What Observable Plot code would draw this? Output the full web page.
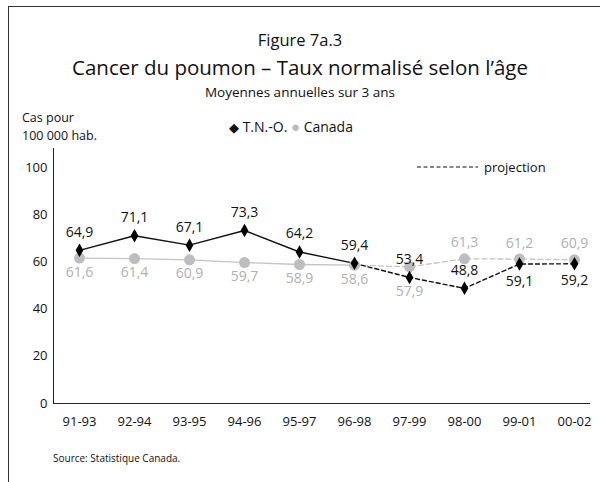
<!DOCTYPE html>
<html><head><meta charset="utf-8">
<script src="https://cdn.jsdelivr.net/npm/d3@7"></script>
<script src="https://cdn.jsdelivr.net/npm/@observablehq/plot@0.6"></script>
<style>
body{margin:0;background:#fff;font-family:"Open Sans",sans-serif;}
#wrap{position:relative;width:600px;height:482px;overflow:hidden;}
#border{position:absolute;left:8px;top:6px;width:700px;height:600px;border-left:1.5px solid #333;border-top:1.5px solid #333;}
.t{position:absolute;white-space:nowrap;color:#111;}
#plot{position:absolute;left:0;top:0;}
</style></head><body>
<div id="wrap">
<div id="border"></div>
<div id="plot"></div>
<div class="t" style="left:0;width:600px;text-align:center;top:28px;font-size:16.5px;">Figure 7a.3</div>
<div class="t" style="left:0;width:600px;text-align:center;top:53px;font-size:20.5px;">Cancer du poumon – Taux normalisé selon l’âge</div>
<div class="t" style="left:0;width:600px;text-align:center;top:83px;font-size:13.5px;">Moyennes annuelles sur 3 ans</div>
<div class="t" style="left:22px;top:109px;font-size:12.5px;line-height:18px;">Cas pour<br>100 000 hab.</div>
<div class="t" style="left:229px;top:116px;font-size:14px;"><span style="font-size:13px">◆</span> T.N.-O. <span style="color:#bbb;font-size:15px">●</span> Canada</div>
<div class="t" style="left:53px;top:451px;font-size:10px;">Source: Statistique Canada.</div>
</div>
<script>
const periods = ["91-93","92-94","93-95","94-96","95-97","96-98","97-99","98-00","99-01","00-02"];
const tno = [64.9, 71.1, 67.1, 73.3, 64.2, 59.4, 53.4, 48.8, 59.1, 59.2];
const canada = [61.6, 61.4, 60.9, 59.7, 58.9, 58.6, 57.9, 61.3, 61.2, 60.9];
const yTicks = [0, 20, 40, 60, 80, 100];
const projectionStart = 5;

const rows = periods.map((p, i) => ({p, i, tno: tno[i], canada: canada[i]}));
const solid = rows.filter(d => d.i <= projectionStart);
const proj = rows.filter(d => d.i >= projectionStart);
const fmt = v => v.toFixed(1).replace(".", ",");
const grey = "#c4c4c4";
const greyText = "#b0b0b0";

const chart = Plot.plot({
  width: 600, height: 482,
  marginLeft: 53, marginRight: 10, marginTop: 148, marginBottom: 79,
  style: {fontFamily: "Open Sans, sans-serif", background: "transparent"},
  x: {type: "point", domain: periods, range: [79, 574], padding: 0, label: null},
  y: {domain: [0, 100], range: [403, 167], label: null},
  marks: [
    Plot.ruleX([periods[0]], {dx: -26, y1: 0, y2: 108, stroke: "#222", strokeWidth: 1}),
    Plot.ruleY([0], {stroke: "#222", strokeWidth: 1.2}),
    Plot.axisY(yTicks, {tickSize: 0, tickPadding: 6, fontSize: 13, fill: "#111"}),
    Plot.axisX({tickSize: 0, tickPadding: 13, fontSize: 13, fill: "#111"}),
    Plot.line(solid, {x: "p", y: "canada", stroke: grey, strokeWidth: 1.3}),
    Plot.line(proj, {x: "p", y: "canada", stroke: grey, strokeWidth: 1.3, strokeDasharray: "5,3"}),
    Plot.line(solid, {x: "p", y: "tno", stroke: "#111", strokeWidth: 1.4}),
    Plot.line(proj, {x: "p", y: "tno", stroke: "#111", strokeWidth: 1.4, strokeDasharray: "4,3"}),
    Plot.dot(rows, {x: "p", y: "canada", r: 5.5, fill: "#bdbdbd"}),
    Plot.dot(rows, {x: "p", y: "tno", symbol: "diamond", r: 4.1, fill: "#000"}),
    Plot.text(rows.filter(d => d.i < 7), {x: "p", y: d => Math.min(d.canada, d.tno), text: d => fmt(d.canada), dy: 14, fontSize: 14, fill: greyText}),
    Plot.text(rows.filter(d => d.i >= 7), {x: "p", y: "canada", text: d => fmt(d.canada), dy: -16, fontSize: 14, fill: greyText}),
    Plot.text(rows.filter(d => d.i < 8), {x: "p", y: "tno", text: d => fmt(d.tno), dy: -18, fontSize: 14, fill: "#111"}),
    Plot.text(rows.filter(d => d.i >= 8), {x: "p", y: "tno", text: d => fmt(d.tno), dy: 17, fontSize: 14, fill: "#111"})
  ]
});
document.getElementById("plot").appendChild(chart);

// projection legend
const svg = d3.select(chart);
svg.append("line").attr("x1", 417).attr("x2", 478).attr("y1", 167).attr("y2", 167)
  .attr("stroke", "#111").attr("stroke-width", 1.2).attr("stroke-dasharray", "4,2.5");
svg.append("text").attr("x", 484).attr("y", 171.5).attr("font-size", 13)
  .attr("text-anchor", "start").attr("fill", "#111").text("projection");
</script>
</body></html>
